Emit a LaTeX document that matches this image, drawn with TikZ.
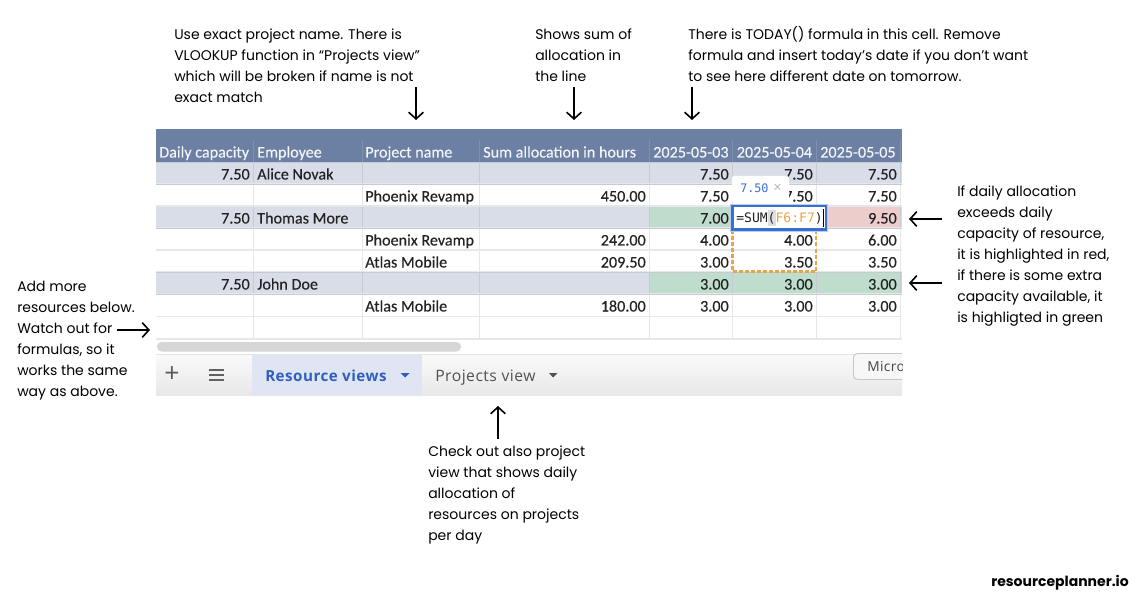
\documentclass[tikz,border=0pt]{standalone}
\usepackage{fontspec}
\setmainfont{Poppins}
\newfontfamily\cellfont[FakeBold=0.25]{Carlito}
\newfontfamily\monofont{DejaVu Sans Mono}
\newfontfamily\tabfont[LetterSpace=3]{Open Sans}
\usetikzlibrary{arrows.meta}
\definecolor{hdr}{HTML}{6C80A3}
\definecolor{hdrline}{HTML}{7E90AF}
\definecolor{band}{HTML}{D9DDE8}
\definecolor{bandline}{HTML}{C6CAD3}
\definecolor{gridl}{HTML}{E6E7E9}
\definecolor{grn}{HTML}{BFDDCC}
\definecolor{rdd}{HTML}{ECCDCC}
\definecolor{ora}{HTML}{E8A44A}
\definecolor{selblue}{HTML}{3A6FD0}
\definecolor{tabblue}{HTML}{2F5FBF}
\definecolor{tabbg}{HTML}{DFE5F2}
\definecolor{ink}{HTML}{222222}
\tikzset{
  note/.style={anchor=north west,inner sep=0pt,align=left,text=black,font=\fontsize{10.5}{15.75}\selectfont},
  pointer/.style={draw=black,line width=1.2pt,-{Straight Barb[length=5pt,width=11pt,line width=1.2pt]}},
  cellL/.style={anchor=base west,inner sep=0pt,text=ink,font=\cellfont\fontsize{12.1}{14}\selectfont},
  cellR/.style={anchor=base east,inner sep=0pt,text=ink,font=\cellfont\fontsize{12.1}{14}\selectfont},
  headL/.style={anchor=base west,inner sep=0pt,text=white!92!hdr,font=\cellfont\fontsize{12.1}{14}\selectfont},
  tabtext/.style={anchor=base west,inner sep=0pt,font=\tabfont\fontsize{11.8}{14}\selectfont},
}
\begin{document}
\begin{tikzpicture}[x=0.75pt,y=-0.75pt]
\useasboundingbox (0,0) rectangle (1148,602);
\fill[white] (0,0) rectangle (1148,602);

% sheet: everything clipped at the right edge of the screenshot
\begin{scope}
\clip (156,129) rectangle (902,395);
% header
\fill[hdr] (156,129) rectangle (902,162);
\foreach \x in {253,362,479,649,732,816,900} \draw[hdrline,line width=0.5pt] (\x,140) -- (\x,162);
% bands
\foreach \a/\b in {162/184,206/228,272/294} \fill[band] (156,\a) rectangle (902,\b);
\fill[grn] (649,206) rectangle (816,228);
\fill[rdd] (816,206) rectangle (900,228);
\fill[grn] (649,272) rectangle (902,294);
% grid
\foreach \x in {253,362,479,649,732,816,900} \draw[gridl,line width=0.7pt] (\x,162) -- (\x,339);
\foreach \x in {253,362,479,649,732,816,900} {
  \draw[bandline,line width=0.6pt] (\x,162) -- (\x,184);
  \draw[bandline,line width=0.6pt] (\x,206) -- (\x,228);
  \draw[bandline,line width=0.6pt] (\x,272) -- (\x,294);
}
\foreach \y in {228,250,294,316.5} \draw[gridl,line width=0.8pt] (156,\y) -- (902,\y);
\foreach \y in {184,206,272} \draw[gridl,line width=0.8pt] (156,\y) -- (902,\y);
\foreach \y in {162,184,228,272,294} \draw[bandline,line width=0.6pt] (156,\y) -- (902,\y);
\draw[gridl,line width=1.2pt] (156,339) -- (902,339);
% scrollbar
\fill[black!16,rounded corners=3.4pt] (157,342) rectangle (461,351.5);
% tab bar
\shade[top color=white!98!black,bottom color=black!9] (156,354) rectangle (902,395);
\draw[black!10,line width=0.6pt] (156,354) -- (902,354);
\fill[tabbg] (252,354) rectangle (422,395);
\end{scope}

% header labels
\node[headL] (h1) at (159,157.5) {Daily capacity};
\node[headL] (h2) at (257,157.5) {Employee};
\node[headL] (h3) at (365,157.5) {Project name};
\node[headL] (h4) at (483,157.5) {Sum allocation in hours};
\node[headL] (h5) at (653,157.5) {2025-05-03};
\node[headL] (h6) at (736.5,157.5) {2025-05-04};
\node[headL] (h7) at (820,157.5) {2025-05-05};
% rows
\node[cellR] (a1) at (250,179.5) {7.50};
\node[cellL] (a2) at (257,179.5) {Alice Novak};
\node[cellR] (a5) at (729,179.5) {7.50};
\node[cellR] (a6) at (813,179.5) {7.50};
\node[cellR] (a7) at (897,179.5) {7.50};
\node[cellL] (b3) at (365,201.5) {Phoenix Revamp};
\node[cellR] (b4) at (646,201.5) {450.00};
\node[cellR] (b5) at (729,201.5) {7.50};
\node[cellR] (b6) at (813,201.5) {7.50};
\node[cellR] (b7) at (897,201.5) {7.50};
\node[cellR] (c1) at (250,223.5) {7.50};
\node[cellL] (c2) at (257,223.5) {Thomas More};
\node[cellR] (c5) at (729,223.5) {7.00};
\node[cellR] (c7) at (897,223.5) {9.50};
\node[cellL] (d3) at (365,245.5) {Phoenix Revamp};
\node[cellR] (d4) at (646,245.5) {242.00};
\node[cellR] (d5) at (729,245.5) {4.00};
\node[cellR] (d6) at (813,245.5) {4.00};
\node[cellR] (d7) at (897,245.5) {6.00};
\node[cellL] (e3) at (365,267.5) {Atlas Mobile};
\node[cellR] (e4) at (646,267.5) {209.50};
\node[cellR] (e5) at (729,267.5) {3.00};
\node[cellR] (e6) at (813,267.5) {3.50};
\node[cellR] (e7) at (897,267.5) {3.50};
\node[cellR] (f1) at (250,289.5) {7.50};
\node[cellL] (f2) at (257,289.5) {John Doe};
\node[cellR] (f5) at (729,289.5) {3.00};
\node[cellR] (f6) at (813,289.5) {3.00};
\node[cellR] (f7) at (897,289.5) {3.00};
\node[cellL] (g3) at (365,311.5) {Atlas Mobile};
\node[cellR] (g4) at (646,311.5) {180.00};
\node[cellR] (g5) at (729,311.5) {3.00};
\node[cellR] (g6) at (813,311.5) {3.00};
\node[cellR] (g7) at (897,311.5) {3.00};

% copied range
\draw[ora,line width=1.7pt,dash pattern=on 3pt off 1.5pt] (732.5,230) -- (732.5,271.5) -- (816,271.5) -- (816,230);

% tooltip
\fill[white,rounded corners=1.5pt] (732,176) -- (789,176) -- (789,202) -- (750,202) -- (740,210) -- (740,202) -- (732,202) -- cycle;
\node[anchor=base west,inner sep=0pt,text=selblue,font=\monofont\fontsize{8.8}{11}\selectfont] (tip) at (740,193) {7.50};
\node[anchor=base west,inner sep=0pt,text=black!28,font=\tabfont\fontsize{11}{11}\selectfont] (tipx) at (773,193) {×};
% formula editor
\draw[selblue!35,line width=3.2pt] (732.5,206) rectangle (826,229.5);
\draw[selblue,fill=white,line width=2pt] (732.5,206) rectangle (826,229.5);
\fill[black!13] (768,210) rectangle (776,226);
\node[anchor=base west,inner sep=0pt,font=\monofont\fontsize{9.8}{12}\selectfont] (fx) at (736,223)
  {\textcolor{ink}{=SUM(}\textcolor{ora}{F6:F7}\textcolor{ink}{)}};
\draw[black,line width=0.7pt] (823.5,209) -- (823.5,227);

% tabs
\node[anchor=center,inner sep=0pt,text=black!65,font=\tabfont\fontsize{20}{20}\selectfont] (plus) at (172,375) {+};
\foreach \y in {370,375,380} \draw[black!62,line width=1.2pt] (209,\y) -- (224,\y);
\node[tabtext,text=tabblue,font=\tabfont\bfseries\fontsize{11.4}{14}\selectfont] (t1) at (265,381) {Resource views};
\fill[tabblue] (400.5,373) -- (409.5,373) -- (405,377.5) -- cycle;
\node[tabtext,text=black!68] (t2) at (435,381) {Projects view};
\fill[black!68] (549,373) -- (557.5,373) -- (553,377.5) -- cycle;
\begin{scope}
\clip (840,345) rectangle (902,395);
\draw[black!22,fill=black!3,rounded corners=3pt,line width=0.7pt] (853.5,353.5) rectangle (930,379.5);
\node[anchor=base west,inner sep=0pt,text=black!72,font=\tabfont\fontsize{10.3}{13}\selectfont] (micro) at (867,371) {Microsoft};
\end{scope}

% annotations
\node[note] (n1) at (174,28.5) {Use exact project name. There is\\VLOOKUP function in “Projects view”\\which will be broken if name is not\\exact match};
\node[note] (n2) at (535,28.5) {Shows sum of\\allocation in\\the line};
\node[note] (n3) at (688,26.5) {There is TODAY() formula in this cell. Remove\\formula and insert today’s date if you don’t want\\to see here different date on tomorrow.};
\node[note] (n4) at (957,185.5) {If daily allocation\\exceeds daily\\capacity of resource,\\it is highlighted in red,\\if there is some extra\\capacity available, it\\is highligted in green};
\node[note] (n5) at (17,280.5) {Add more\\resources below.\\Watch out for\\formulas, so it\\works the same\\way as above.};
\node[note] (n6) at (428,445.5) {Check out also project\\view that shows daily\\allocation of\\resources on projects\\per day};
\node[anchor=base west,inner sep=0pt,font=\bfseries\fontsize{10.5}{13}\selectfont] (brand) at (991,586) {resourceplanner.io};

% arrows
\coordinate (s1) at (416,87);  \coordinate (e1) at (416,120);
\coordinate (s2) at (574,87);  \coordinate (e2) at (574,120);
\coordinate (s3) at (692,87);  \coordinate (e3x) at (692,120);
\coordinate (s4) at (942,219); \coordinate (e4x) at (909,219);
\coordinate (s5) at (942,283); \coordinate (e5x) at (909,283);
\coordinate (s6) at (117,330); \coordinate (e6) at (150,330);
\coordinate (s7) at (498,439); \coordinate (e7) at (498,406);
\draw[pointer] (s1) -- (e1);
\draw[pointer] (s2) -- (e2);
\draw[pointer] (s3) -- (e3x);
\draw[pointer] (s4) -- (e4x);
\draw[pointer] (s5) -- (e5x);
\draw[pointer] (s6) -- (e6);
\draw[pointer] (s7) -- (e7);
\end{tikzpicture}
\end{document}
